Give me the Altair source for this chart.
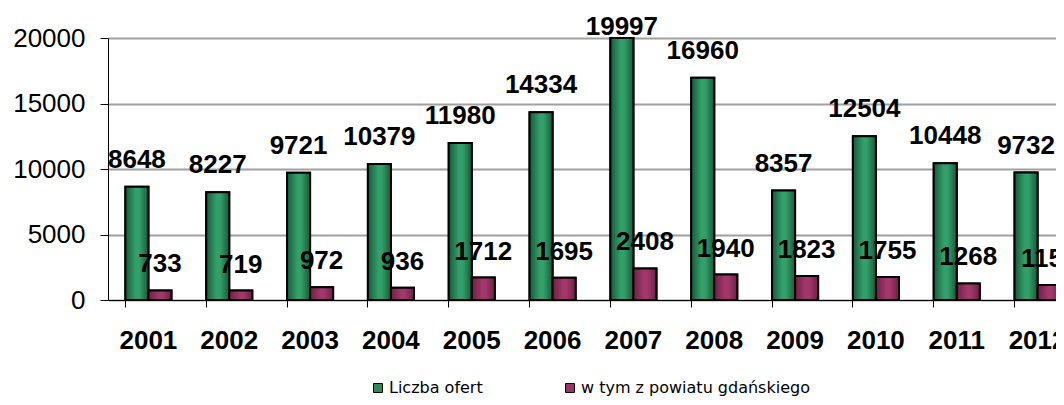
import altair as alt
import pandas as pd

years = ["2001", "2002", "2003", "2004", "2005", "2006",
         "2007", "2008", "2009", "2010", "2011", "2012"]
liczba_ofert = [8648, 8227, 9721, 10379, 11980, 14334,
                19997, 16960, 8357, 12504, 10448, 9732]
powiat_gdanski = [733, 719, 972, 936, 1712, 1695,
                  2408, 1940, 1823, 1755, 1268, 1153]
series = ["Liczba ofert", "w tym z powiatu gdańskiego"]
colors = ["#2e8b57", "#993366"]
edge_colors = ["#175a38", "#6a2246"]
center_colors = ["#33a06b", "#a3376c"]

rows = []
for i, yr in enumerate(years):
    rows.append({"rok": yr, "seria": series[0], "wartosc": liczba_ofert[i]})
    rows.append({"rok": yr, "seria": series[1], "wartosc": powiat_gdanski[i]})
df = pd.DataFrame(rows)

FONT = "Liberation Sans, Arial, sans-serif"

x = alt.X(
    "rok:O", title=None, sort=years,
    scale=alt.Scale(range=[0, 970], paddingInner=0.43, paddingOuter=0.215),
    axis=alt.Axis(labelAngle=0, labelFont=FONT, labelFontSize=26,
                  labelFontWeight="bold", labelColor="#000", labelPadding=20,
                  bandPosition=0, tickSize=7, tickColor="#000",
                  domainColor="#000", grid=False),
)
xo = alt.XOffset("seria:N", sort=series,
                 scale=alt.Scale(domain=series, paddingInner=0, paddingOuter=0))
y_axis = alt.Axis(values=[0, 5000, 10000, 15000, 20000], title=None,
                  format="d",
                  labelFont=FONT, labelFontSize=26, labelColor="#000",
                  tickSize=8, labelPadding=15, tickColor="#000",
                  domainColor="#000", gridColor="#a0a0a0", gridWidth=2)
y_scale = alt.Scale(domain=[0, 20000], nice=False)

bars = alt.Chart(df).mark_bar(stroke="#000", strokeWidth=2).encode(
    x=x,
    xOffset=xo,
    y=alt.Y("wartosc:Q", scale=y_scale, axis=y_axis),
    color=alt.Color(
        "seria:N", sort=series,
        scale=alt.Scale(domain=series, range=colors),
        legend=alt.Legend(title=None, orient="none", legendX=262, legendY=342,
                          direction="horizontal", columns=2,
                          symbolType="square", symbolSize=81,
                          symbolStrokeColor="#000", symbolStrokeWidth=1,
                          labelFont="DejaVu Sans", labelFontSize=16,
                          labelColor="#000", labelOffset=3, labelLimit=500,
                          columnPadding=79, padding=0),
    ),
)


def shaded(idx):
    grad = alt.Gradient(
        gradient="linear", x1=0, x2=1, y1=0, y2=0,
        stops=[alt.GradientStop(color=edge_colors[idx], offset=0),
               alt.GradientStop(color=center_colors[idx], offset=0.45),
               alt.GradientStop(color=center_colors[idx], offset=0.6),
               alt.GradientStop(color=edge_colors[idx], offset=1)],
    )
    return alt.Chart(df).transform_filter(
        alt.datum.seria == series[idx]
    ).mark_bar(color=grad, stroke="#000", strokeWidth=2).encode(
        x=alt.X("rok:O", sort=years),
        xOffset=xo,
        y=alt.Y("wartosc:Q", scale=y_scale),
    )


text_green = alt.Chart(df).transform_filter(
    alt.datum.seria == series[0]
).transform_calculate(
    ly="min(datum.wartosc, 18780)"
).mark_text(dy=-19, baseline="alphabetic", font=FONT, fontSize=26,
            fontWeight="bold", color="#000").encode(
    x=alt.X("rok:O", sort=years),
    xOffset=xo,
    y=alt.Y("ly:Q", scale=y_scale),
    text=alt.Text("wartosc:Q", format="d"),
)

text_maroon = alt.Chart(df).transform_filter(
    alt.datum.seria == series[1]
).mark_text(dy=-18, baseline="alphabetic", font=FONT, fontSize=26,
            fontWeight="bold", color="#000").encode(
    x=alt.X("rok:O", sort=years),
    xOffset=xo,
    y=alt.Y("wartosc:Q", scale=y_scale),
    text=alt.Text("wartosc:Q", format="d"),
)

chart = alt.layer(bars, shaded(0), shaded(1), text_green, text_maroon).properties(
    width=948, height=262,
    autosize=alt.AutoSizeParams(type="none"),
    padding={"left": 100, "top": 30, "right": 0, "bottom": 96},
).configure_view(stroke=None)

chart.save("out.html", embed_options={"renderer": "svg", "actions": False})
